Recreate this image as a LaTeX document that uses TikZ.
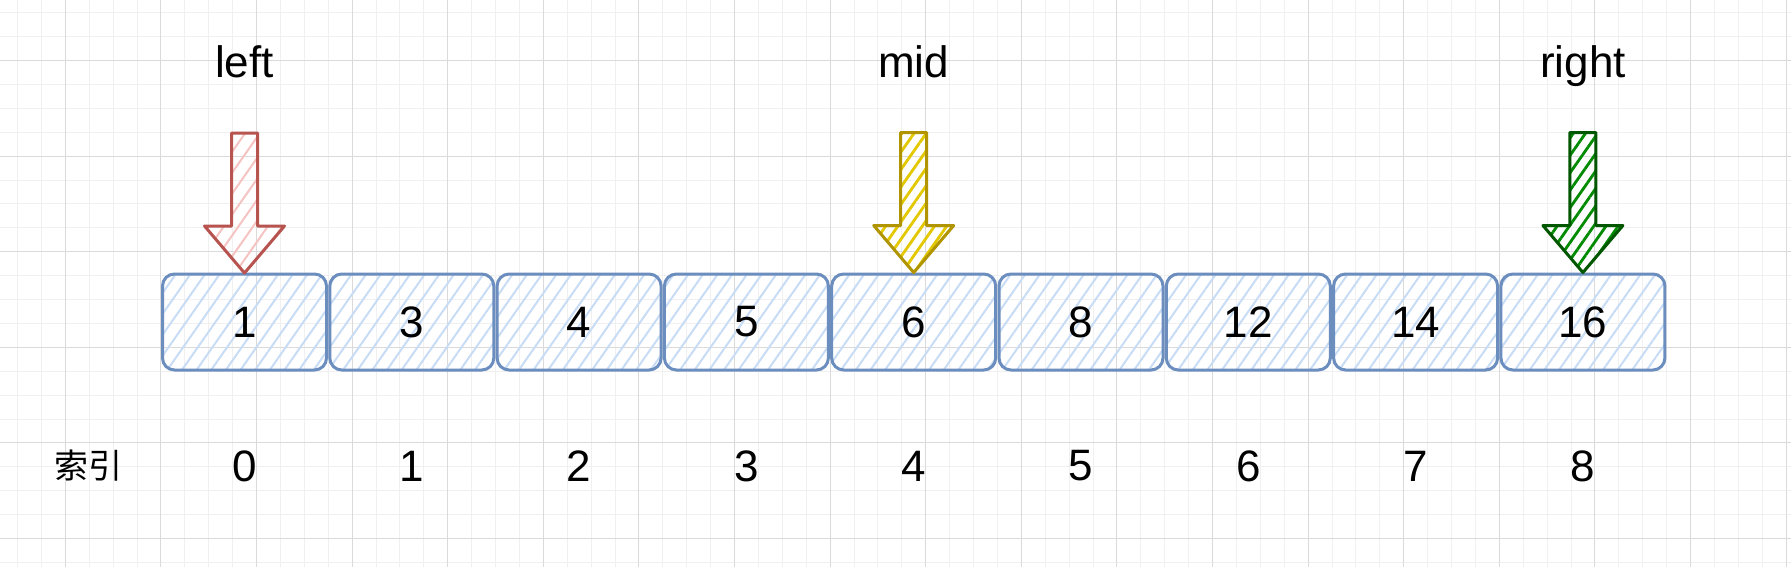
\documentclass[tikz,border=0pt]{standalone}
\usepackage{fontspec}
\setmainfont{Liberation Sans}
\newfontfamily\cjk{Noto Sans CJK SC}
\usepackage{tikz}
\usetikzlibrary{patterns.meta}
\usetikzlibrary{positioning}

\definecolor{minorgrid}{HTML}{F0F0F0}
\definecolor{majorgrid}{HTML}{DADADA}
\definecolor{cellline}{HTML}{6C8EBF}
\definecolor{cellfill}{HTML}{C8DCF6}
\definecolor{leftline}{HTML}{B85450}
\definecolor{leftfill}{HTML}{F5C4C2}
\definecolor{midline}{HTML}{B09500}
\definecolor{midfill}{HTML}{E3C800}
\definecolor{rightline}{HTML}{005700}
\definecolor{rightfill}{HTML}{008A00}

\tikzset{
  hatch/.style={pattern={Lines[angle=55,distance=6pt,line width=1pt]}, pattern color=#1},
  bighatch/.style={pattern={Lines[angle=55,distance=5pt,line width=1.4pt]}, pattern color=#1},
  cell/.style={draw=cellline, line width=1.5pt, rounded corners=6pt,
    minimum width=82pt, minimum height=48pt, hatch=cellfill,
    font=\fontsize{22}{26}\selectfont},
  idx/.style={font=\fontsize{22}{26}\selectfont},
  tag/.style={anchor=base, font=\fontsize{22}{26}\selectfont},
  ptr/.pic={
    \draw[pic actions, line width=1.5pt, line join=round]
      (0,0) -- (-40,-47) -- (-13,-47) -- (-13,-140) -- (13,-140)
      -- (13,-47) -- (40,-47) -- cycle;
  }
}

\begin{document}
\begin{tikzpicture}[x=0.5pt, y=-0.5pt]
  \useasboundingbox[fill=white] (0,0) rectangle (1791,567);

  % grid
  \foreach \k in {0,...,74}
    \draw[minorgrid, line width=0.5pt] ({17.5+23.9*\k},0) -- ++(0,567);
  \foreach \k in {0,...,23}
    \draw[minorgrid, line width=0.5pt] (0,{12.7+23.9*\k}) -- ++(1791,0);
  \foreach \k in {0,...,18}
    \draw[majorgrid, line width=0.5pt] ({65.3+95.6*\k},0) -- ++(0,567);
  \foreach \k in {0,...,5}
    \draw[majorgrid, line width=0.5pt] (0,{60.5+95.6*\k}) -- ++(1791,0);

  % array cells and their indices
  \foreach \v [count=\i from 0] in {1,3,4,5,6,8,12,14,16} {
    \node[cell] (b\i) at ({244.5+167.3*\i},322) {\v};
    \node[idx] (i\i) at ({244.5+167.3*\i},466) {\i};
  }
  \node[font=\cjk\fontsize{17}{20}\selectfont] (idxname) at (88,466) {索引};

  % pointers
  \pic[draw=leftline, hatch=leftfill] at (b0.north) {ptr};
  \pic[draw=midline, bighatch=midfill] at (b4.north) {ptr};
  \pic[draw=rightline, bighatch=rightfill] at (b8.north) {ptr};

  \node[tag] (lleft) at (b0 |- 0,77) {left};
  \node[tag] (lmid) at (b4 |- 0,77) {mid};
  \node[tag] (lright) at (b8 |- 0,77) {right};
\end{tikzpicture}
\end{document}
